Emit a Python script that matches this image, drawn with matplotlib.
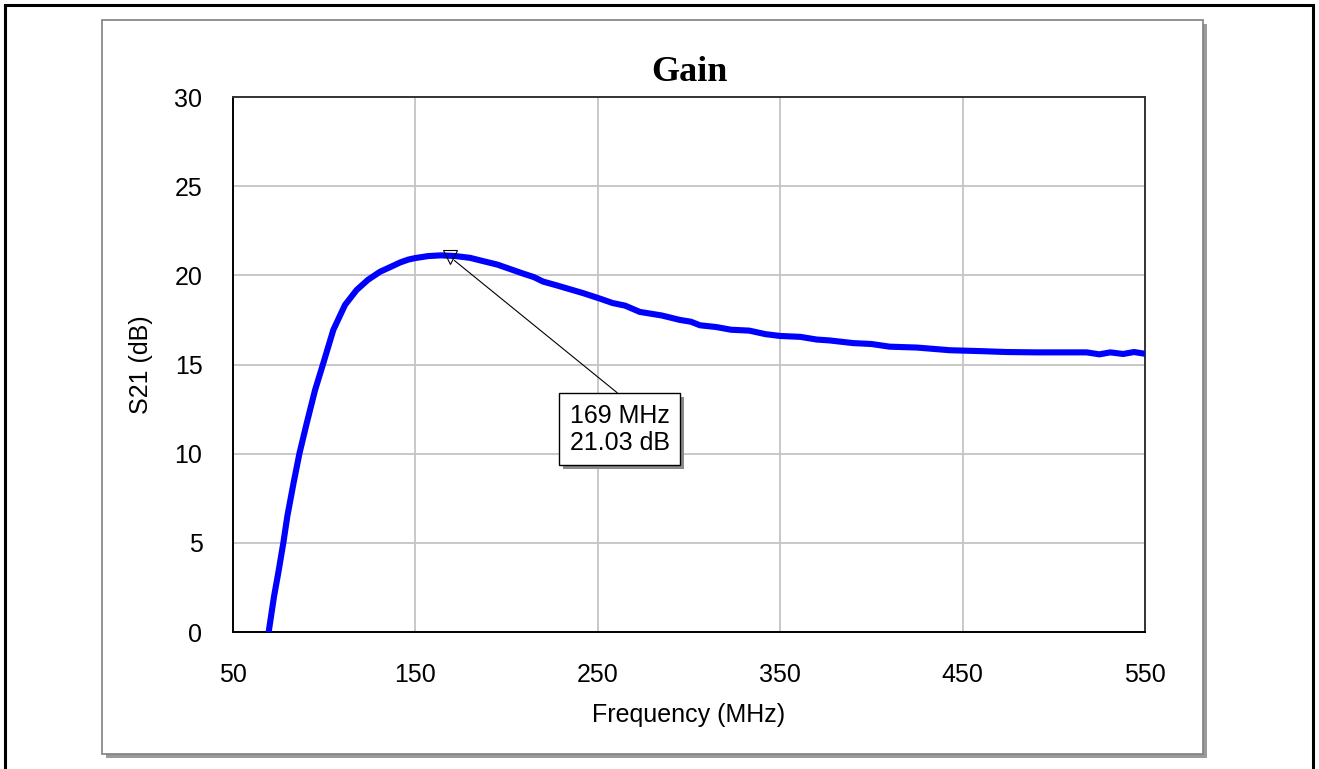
import matplotlib
matplotlib.use("Agg")
import matplotlib.pyplot as plt
import matplotlib.patheffects as pe
from matplotlib.patches import Rectangle

# S21 gain
freq_mhz = [69.7, 72.5, 74.8, 77.6, 79.8, 83.1, 86.4, 90.4, 95, 99.5, 105,
            111.4, 117.8, 124, 130.6, 137, 141.6, 146, 150, 157, 164, 172,
            180, 187, 195, 202, 209, 215, 220, 227, 233, 242, 251, 258, 265,
            273, 285, 295, 301, 306, 315, 323, 333, 342, 350, 361, 370, 377,
            390, 400, 410, 425, 443, 460, 474, 490, 505, 518, 525, 531, 538,
            544, 550]
gain_db = [0.1, 2.0, 3.3, 5.0, 6.5, 8.3, 10.0, 11.7, 13.57, 15.07, 16.94,
           18.34, 19.18, 19.75, 20.2, 20.5, 20.72, 20.88, 20.97, 21.08, 21.12,
           21.08, 20.98, 20.8, 20.6, 20.35, 20.1, 19.9, 19.65, 19.45, 19.27,
           19.0, 18.7, 18.45, 18.3, 17.95, 17.75, 17.5, 17.4, 17.2, 17.1,
           16.95, 16.9, 16.7, 16.6, 16.55, 16.4, 16.35, 16.2, 16.15, 16.0,
           15.95, 15.8, 15.75, 15.7, 15.68, 15.68, 15.68, 15.57, 15.68, 15.59,
           15.7, 15.6]

marker_f = 169
marker_db = 21.03
x_ticks = [50, 150, 250, 350, 450, 550]
y_ticks = [0, 5, 10, 15, 20, 25, 30]

W, H = 1319, 769
fig = plt.figure(figsize=(W / 100, H / 100), dpi=100)
plt.rcParams['font.family'] = ['Liberation Sans', 'DejaVu Sans']


def px_rect(x0, y0, x1, y1, **kw):
    # rectangle given in image pixels (y downwards)
    r = Rectangle((x0 / W, 1 - y1 / H), (x1 - x0) / W, (y1 - y0) / H,
                  transform=fig.transFigure, **kw)
    fig.patches.append(r)
    return r


# outer black frame (bottom edge runs off the picture)
px_rect(5, 5, 1313, 775, fill=False, ec='black', lw=2.2, zorder=-3)
# inner panel with drop shadow
px_rect(106, 24, 1207, 758, fc='#9a9a9a', ec='none', zorder=-2)
px_rect(102, 20, 1203, 754, fc='white', ec='#808080', lw=1.2, zorder=-1)

ax = fig.add_axes([233 / W, 1 - 632 / H, 912 / W, 535 / H])
ax.plot(freq_mhz, gain_db, color='#0000ff', lw=4.4, solid_joinstyle='round',
        zorder=3)
ax.plot([marker_f], [marker_db], marker='v', ms=10, mfc='none', mec='black',
        mew=0.8, zorder=4)

ann = ax.annotate(f"{marker_f} MHz\n{marker_db:.2f} dB", xy=(marker_f, marker_db),
                  xytext=(122, -124), textcoords='offset points',
                  ha='center', va='center', fontsize=18, linespacing=1.15,
                  multialignment='left',
                  bbox=dict(boxstyle='square,pad=0.42', fc='white', ec='black',
                            lw=1.0),
                  arrowprops=dict(arrowstyle='-', color='black', lw=0.8,
                                  shrinkA=0, shrinkB=4, relpos=(0.5, 1.18)),
                  zorder=5)
ann.get_bbox_patch().set_path_effects([
    pe.SimplePatchShadow(offset=(3, -3), shadow_rgbFace='#8a8a8a', alpha=1),
    pe.Normal()])

ax.set_xlim(50, 550)
ax.set_ylim(0, 30)
ax.set_xticks(x_ticks)
ax.set_yticks(y_ticks)
ax.tick_params(length=0, labelsize=18)
ax.tick_params(axis='x', pad=22)
ax.tick_params(axis='y', pad=22)
ax.grid(True, color='#c4c4c4', lw=1.3)
ax.set_axisbelow(True)
for s in ax.spines.values():
    s.set_linewidth(1.4)
    s.set_color('black')
ax.spines['top'].set_color('#333333')
ax.spines['right'].set_color('#333333')

ax.set_xlabel("Frequency (MHz)", fontsize=18, labelpad=11.5)
ax.set_ylabel("S21 (dB)", fontsize=18)
ax.yaxis.set_label_coords(-0.088, 0.5)
ax.set_title("Gain", fontsize=26, fontweight='bold', pad=11.5,
             family=['Liberation Serif', 'DejaVu Serif'])

fig.savefig("out.png", dpi=100)
